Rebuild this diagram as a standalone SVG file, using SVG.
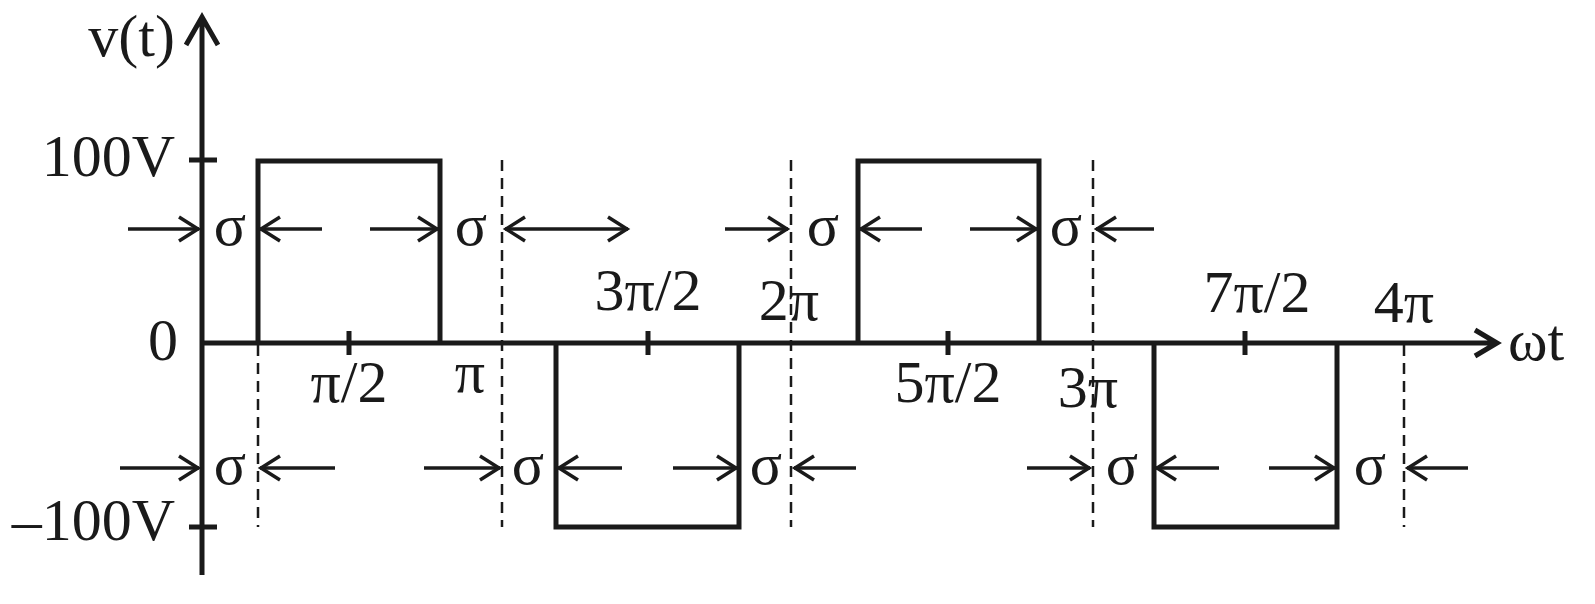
<svg xmlns="http://www.w3.org/2000/svg" width="1595" height="604" viewBox="0 0 1595 604">
<style>
.t{font-family:"Liberation Serif","Times New Roman",serif;font-size:60px;fill:#1a1a1a}
.m{stroke:#1a1a1a;stroke-width:5;fill:none}
.d{stroke:#1a1a1a;stroke-width:2.5;stroke-dasharray:11 7;fill:none}
.a{stroke:#1a1a1a;stroke-width:3.5;fill:none;marker-end:url(#h)}
.b{stroke:#1a1a1a;stroke-width:3.5;fill:none;marker-start:url(#h);marker-end:url(#h)}
</style>
<defs>
<marker id="h" markerUnits="userSpaceOnUse" markerWidth="30" markerHeight="30" refX="22" refY="15" orient="auto-start-reverse">
<path d="M2,3 L21,15 L2,27" fill="none" stroke="#1a1a1a" stroke-width="3.5"/>
</marker>
</defs>
<g id="axes">
<path class="m" d="M202,575 V18 M186,45 L202,17 L218,45 M202,343 H1495 M1475,330 L1497,343 L1475,356" stroke-width="6"/>
<path class="m" d="M189,160 H217 M189,527 H217 M349,331 V355 M648,331 V355 M948,331 V355 M1245,331 V355"/>
</g>
<g id="waveform">
<path class="m" d="M258,343 V161 H440 V343 M556,343 V527 H739 V343 M858,343 V161 H1039 V343 M1154,343 V527 H1337 V343"/>
</g>
<g id="dashed">
<path class="d" d="M258,345 V527 M502,160 V527 M791,160 V527 M1093,160 V527 M1404,345 V527"/>
</g>
<g id="connectors">
<path class="a" d="M128,229 H199"/>
<path class="a" d="M322,229 H260"/>
<path class="a" d="M370,229 H438"/>
<path class="b" d="M505,229 H628"/>
<path class="a" d="M725,229 H788"/>
<path class="a" d="M922,229 H860"/>
<path class="a" d="M970,229 H1037"/>
<path class="a" d="M1154,229 H1096"/>
<path class="a" d="M120,468 H199"/>
<path class="a" d="M335,468 H260"/>
<path class="a" d="M424,468 H500"/>
<path class="a" d="M622,468 H558"/>
<path class="a" d="M673,468 H737"/>
<path class="a" d="M856,468 H794"/>
<path class="a" d="M1027,468 H1090"/>
<path class="a" d="M1219,468 H1156"/>
<path class="a" d="M1269,468 H1335"/>
<path class="a" d="M1468,468 H1407"/>
</g>
<g id="labels">
<text class="t" x="175" y="56" text-anchor="end">v(t)</text>
<text class="t" x="175" y="176" text-anchor="end">100V</text>
<text class="t" x="178" y="360" text-anchor="end">0</text>
<text class="t" x="175" y="540" text-anchor="end">–100V</text>
<text class="t" x="349" y="402" text-anchor="middle">π/2</text>
<text class="t" x="470" y="392" text-anchor="middle">π</text>
<text class="t" x="648" y="310" text-anchor="middle">3π/2</text>
<text class="t" x="789" y="320" text-anchor="middle">2π</text>
<text class="t" x="948" y="402" text-anchor="middle">5π/2</text>
<text class="t" x="1088" y="407" text-anchor="middle">3π</text>
<text class="t" x="1257" y="312" text-anchor="middle">7π/2</text>
<text class="t" x="1404" y="322" text-anchor="middle">4π</text>
<text class="t" x="1508" y="360">ωt</text>
<g text-anchor="middle">
<text class="t" x="230" y="245">σ</text>
<text class="t" x="471" y="245">σ</text>
<text class="t" x="823" y="245">σ</text>
<text class="t" x="1066" y="245">σ</text>
<text class="t" x="230" y="484">σ</text>
<text class="t" x="528" y="484">σ</text>
<text class="t" x="766" y="484">σ</text>
<text class="t" x="1122" y="484">σ</text>
<text class="t" x="1370" y="484">σ</text>
</g>
</g>
</svg>
